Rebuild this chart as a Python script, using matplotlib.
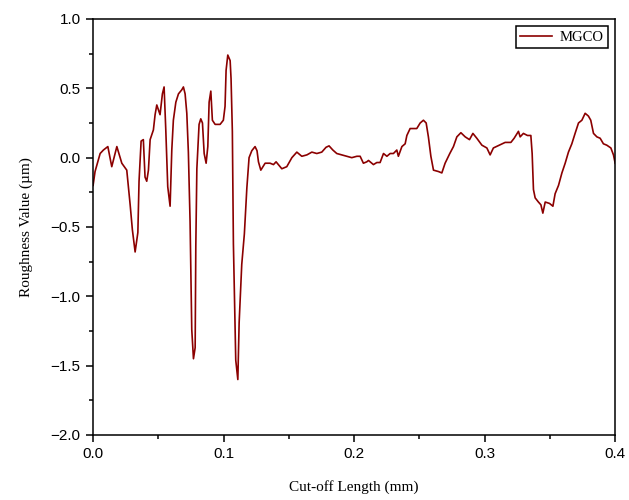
import matplotlib
matplotlib.use("Agg")
import matplotlib.pyplot as plt
from matplotlib.ticker import MultipleLocator

# cut-off length (mm) and roughness (um)
cutoff_mm = [
    0.0000, 0.0015, 0.0054, 0.0079, 0.0113, 0.0143, 0.0182, 0.0220, 0.0258, 0.0284,
    0.0301, 0.0322, 0.0343, 0.0352, 0.0368, 0.0385, 0.0398, 0.0411, 0.0424, 0.0437,
    0.0462, 0.0475, 0.0488, 0.0513, 0.0531, 0.0544, 0.0557, 0.0572, 0.0590, 0.0603,
    0.0615, 0.0634, 0.0654, 0.0680, 0.0692, 0.0705, 0.0718, 0.0730, 0.0743, 0.0756,
    0.0769, 0.0782, 0.0787, 0.0795, 0.0812, 0.0825, 0.0838, 0.0851, 0.0866, 0.0879,
    0.0889, 0.0902, 0.0914, 0.0935, 0.0973, 0.0998, 0.1011, 0.1019, 0.1032, 0.1050,
    0.1057, 0.1067, 0.1075, 0.1093, 0.1109, 0.1119, 0.1139, 0.1159, 0.1178, 0.1195,
    0.1216, 0.1241, 0.1256, 0.1267, 0.1285, 0.1318, 0.1356, 0.1382, 0.1402, 0.1446,
    0.1484, 0.1523, 0.1561, 0.1599, 0.1638, 0.1676, 0.1714, 0.1752, 0.1785, 0.1808,
    0.1837, 0.1867, 0.1906, 0.1944, 0.1982, 0.2021, 0.2046, 0.2071, 0.2097, 0.2110,
    0.2148, 0.2174, 0.2199, 0.2225, 0.2251, 0.2276, 0.2301, 0.2327, 0.2339, 0.2366,
    0.2391, 0.2404, 0.2429, 0.2480, 0.2506, 0.2531, 0.2552, 0.2569, 0.2588, 0.2608,
    0.2646, 0.2672, 0.2697, 0.2733, 0.2761, 0.2787, 0.2818, 0.2851, 0.2884, 0.2910,
    0.2940, 0.2979, 0.3017, 0.3042, 0.3067, 0.3113, 0.3157, 0.3201, 0.3226, 0.3259,
    0.3272, 0.3297, 0.3328, 0.3354, 0.3364, 0.3374, 0.3387, 0.3412, 0.3431, 0.3446,
    0.3464, 0.3497, 0.3523, 0.3540, 0.3566, 0.3592, 0.3617, 0.3642, 0.3668, 0.3693,
    0.3719, 0.3745, 0.3770, 0.3795, 0.3813, 0.3834, 0.3860, 0.3885, 0.3910, 0.3936,
    0.3967, 0.3987, 0.4000,
]
roughness_um = [
    -0.20, -0.10, 0.03, 0.055, 0.08, -0.065, 0.08, -0.04, -0.09, -0.34,
    -0.52, -0.68, -0.54, -0.17, 0.12, 0.13, -0.14, -0.17, -0.09, 0.13,
    0.20, 0.31, 0.38, 0.31, 0.46, 0.51, 0.20, -0.21, -0.35, 0.055,
    0.27, 0.40, 0.46, 0.49, 0.51, 0.46, 0.32, 0.04, -0.46, -1.24,
    -1.45, -1.37, -0.64, -0.08, 0.24, 0.28, 0.25, 0.03, -0.04, 0.08,
    0.40, 0.48, 0.27, 0.24, 0.24, 0.27, 0.37, 0.63, 0.74, 0.70,
    0.57, 0.19, -0.62, -1.46, -1.60, -1.19, -0.77, -0.55, -0.22, 0.00,
    0.05, 0.08, 0.05, -0.03, -0.09, -0.04, -0.04, -0.05, -0.03, -0.08,
    -0.065, 0.00, 0.04, 0.01, 0.02, 0.04, 0.03, 0.04, 0.075, 0.085,
    0.055, 0.03, 0.02, 0.01, 0.00, 0.01, 0.01, -0.04, -0.03, -0.02,
    -0.05, -0.035, -0.035, 0.03, 0.01, 0.03, 0.03, 0.055, 0.01, 0.08,
    0.10, 0.16, 0.21, 0.21, 0.25, 0.27, 0.25, 0.15, 0.01, -0.09,
    -0.10, -0.11, -0.04, 0.03, 0.08, 0.15, 0.18, 0.15, 0.13, 0.175,
    0.14, 0.09, 0.07, 0.02, 0.07, 0.09, 0.11, 0.11, 0.14, 0.19,
    0.15, 0.175, 0.16, 0.16, 0.03, -0.23, -0.29, -0.32, -0.34, -0.40,
    -0.32, -0.33, -0.35, -0.26, -0.20, -0.11, -0.04, 0.04, 0.10, 0.175,
    0.25, 0.27, 0.32, 0.30, 0.27, 0.175, 0.15, 0.14, 0.10, 0.09,
    0.07, 0.02, -0.04,
]
series_label = "MGCO"

fig = plt.figure(figsize=(6.29, 5.0), dpi=100)
ax = fig.add_axes([0.148, 0.13, 0.830, 0.832])

ax.plot(cutoff_mm, roughness_um, color="#8b0000", lw=1.2, label=series_label)

ax.set_xlim(0, 0.4)
ax.set_ylim(-2.0, 1.0)
ax.xaxis.set_major_locator(MultipleLocator(0.1))
ax.xaxis.set_minor_locator(MultipleLocator(0.05))
ax.yaxis.set_major_locator(MultipleLocator(0.5))
ax.yaxis.set_minor_locator(MultipleLocator(0.25))

for s in ax.spines.values():
    s.set_linewidth(1.1)
ax.tick_params(which="major", direction="out", length=5, width=1.1, pad=4,
               labelsize=11, top=False, right=False)
ax.tick_params(which="minor", direction="out", length=3, width=1.1,
               top=False, right=False)
for lab in ax.get_xticklabels() + ax.get_yticklabels():
    lab.set_family("Liberation Sans")

ax.set_xlabel("Cut-off Length (mm)", family="Liberation Serif", fontsize=11, labelpad=13)
ax.set_ylabel("Roughness Value (\u00b5m)", family="Liberation Serif", fontsize=11, labelpad=13)

leg = ax.legend(loc="upper right", prop={"family": "Liberation Serif", "size": 10.5},
                fancybox=False, edgecolor="black", handlelength=2.2,
                handletextpad=0.5, borderpad=0.3, borderaxespad=0.5, framealpha=1)
leg.get_frame().set_linewidth(1.1)

fig.savefig("out.png", dpi=100)
